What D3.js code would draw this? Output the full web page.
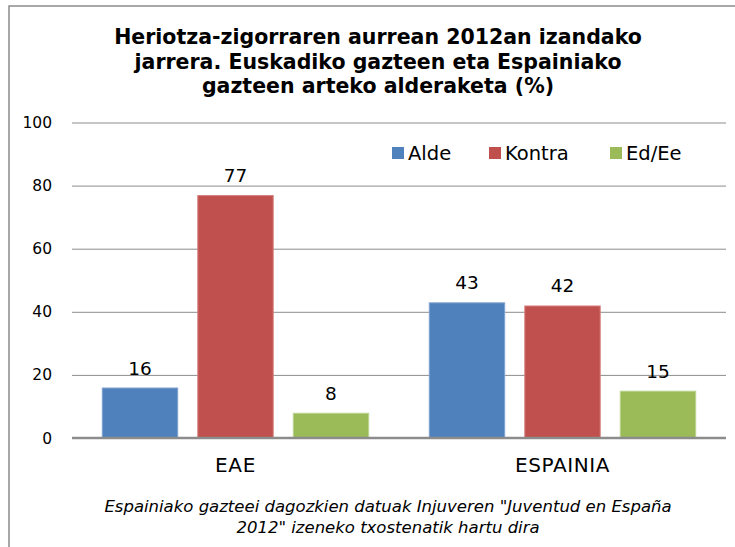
<!DOCTYPE html>
<html>
<head>
<meta charset="utf-8">
<script src="https://cdnjs.cloudflare.com/ajax/libs/d3/7.8.5/d3.min.js"></script>
<style>
    body { margin: 0; background: #fff; }
    text { font-family: "DejaVu Sans", Verdana, sans-serif; fill: #000; }
</style>
</head>
<body>
<div id="chart"></div>
<script>
// data
const categories = ["EAE", "ESPAINIA"];
const seriesNames = ["Alde", "Kontra", "Ed/Ee"];
const alde = [16, 43];
const kontra = [77, 42];
const edEe = [8, 15];
const yTicks = [0, 20, 40, 60, 80, 100];
const titleLines = [
    "Heriotza-zigorraren aurrean 2012an izandako",
    "jarrera. Euskadiko gazteen eta Espainiako",
    "gazteen arteko alderaketa (%)"
];
const noteLines = [
    "Espainiako gazteei dagozkien datuak Injuveren \"Juventud en España",
    "2012\" izeneko txostenatik hartu dira"
];

const colors = ["#4F81BD", "#C0504D", "#9BBB59"];
const strokes = ["#7FA3D0", "#D47F7D", "#BCD38F"];

const W = 735, H = 547;
const plot = { left: 72, right: 726, top: 122.5, bottom: 438 };

const svg = d3.select("#chart")
    .append("svg")
    .attr("width", W)
    .attr("height", H);

// outer chart frame (runs off the right and bottom edge)
svg.append("rect")
    .attr("x", 9).attr("y", 6)
    .attr("width", 800).attr("height", 600)
    .attr("fill", "none")
    .attr("stroke", "#8c8c8c")
    .attr("stroke-width", 1.5);

// title
svg.append("g").selectAll("text")
    .data(titleLines)
    .enter().append("text")
    .attr("x", 378)
    .attr("y", (d, i) => 44 + i * 24.5)
    .attr("text-anchor", "middle")
    .style("font-size", "20.5px")
    .style("font-weight", "bold")
    .text(d => d);

const yScale = d3.scaleLinear()
    .domain([0, 100])
    .range([plot.bottom, plot.top]);

const xScale = d3.scaleBand()
    .domain(categories)
    .range([plot.left, plot.right])
    .padding(0);

const xInner = d3.scaleBand()
    .domain(seriesNames)
    .range([0, xScale.bandwidth()])
    .paddingInner(0.2)
    .paddingOuter(0.312);

// gridlines
const yAxis = svg.append("g")
    .attr("transform", "translate(" + plot.left + ",0)")
    .call(d3.axisLeft(yScale).tickValues(yTicks).tickSize(-(plot.right - plot.left)).tickFormat(""));
yAxis.select(".domain").remove();
yAxis.selectAll(".tick line")
    .attr("stroke", "#8c8c8c")
    .attr("stroke-width", 1);

// y tick labels
svg.append("g").selectAll("text")
    .data(yTicks)
    .enter().append("text")
    .attr("x", 52)
    .attr("y", d => yScale(d))
    .attr("dy", "0.36em")
    .attr("text-anchor", "end")
    .style("font-size", "15.5px")
    .text(d => d);

// bars
const rows = categories.map((c, i) => ({
    category: c,
    values: [alde[i], kontra[i], edEe[i]]
}));

const groups = svg.selectAll(".group")
    .data(rows)
    .enter().append("g")
    .attr("class", "group")
    .attr("transform", d => "translate(" + xScale(d.category) + ",0)");

groups.selectAll("rect")
    .data(d => d.values.map((v, j) => ({ name: seriesNames[j], value: v, j: j })))
    .enter().append("rect")
    .attr("x", d => xInner(d.name) + 0.5)
    .attr("width", xInner.bandwidth() - 1)
    .attr("y", d => yScale(d.value) + 0.5)
    .attr("height", d => plot.bottom - yScale(d.value) - 0.5)
    .attr("fill", d => colors[d.j])
    .attr("stroke", d => strokes[d.j])
    .attr("stroke-width", 1);

groups.selectAll(".label")
    .data(d => d.values.map((v, j) => ({ name: seriesNames[j], value: v })))
    .enter().append("text")
    .attr("class", "label")
    .attr("x", d => xInner(d.name) + xInner.bandwidth() / 2)
    .attr("y", d => yScale(d.value) - 13)
    .attr("text-anchor", "middle")
    .style("font-size", "18.5px")
    .text(d => d.value);

// x axis line
svg.append("line")
    .attr("x1", plot.left).attr("x2", plot.right)
    .attr("y1", plot.bottom).attr("y2", plot.bottom)
    .attr("stroke", "#8c8c8c")
    .attr("stroke-width", 2.5);

// category labels
svg.selectAll(".cat")
    .data(categories)
    .enter().append("text")
    .attr("class", "cat")
    .attr("x", d => xScale(d) + xScale.bandwidth() / 2)
    .attr("y", 472)
    .attr("text-anchor", "middle")
    .style("font-size", "20px")
    .style("letter-spacing", "0.6px")
    .text(d => d);

// legend
const legendX = [392, 489, 610];
const legend = svg.selectAll(".legend")
    .data(seriesNames)
    .enter().append("g")
    .attr("class", "legend")
    .attr("transform", (d, i) => "translate(" + legendX[i] + ",147)");

legend.append("rect")
    .attr("width", 12).attr("height", 12)
    .attr("fill", (d, i) => colors[i]);

legend.append("text")
    .attr("x", 16)
    .attr("y", 12.5)
    .style("font-size", "19.5px")
    .text(d => d);

// footnote
svg.append("g").selectAll("text")
    .data(noteLines)
    .enter().append("text")
    .attr("x", 388)
    .attr("y", (d, i) => 512 + i * 20.5)
    .attr("text-anchor", "middle")
    .style("font-size", "16.5px")
    .style("font-style", "italic")
    .text(d => d);
</script>
</body>
</html>
